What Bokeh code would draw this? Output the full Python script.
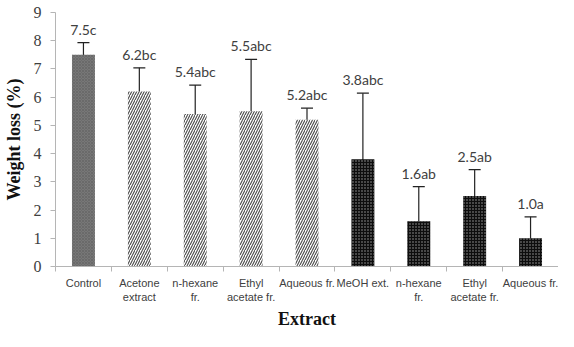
from bokeh.plotting import figure
from bokeh.models import ColumnDataSource, Whisker, TeeHead, FixedTicker, Range1d
from bokeh.core.properties import value
from bokeh.embed import file_html
from bokeh.resources import INLINE

categories = ["Control", "Acetone\nextract", "n-hexane\nfr.", "Ethyl\nacetate fr.", "Aqueous fr.",
              "MeOH ext.", "n-hexane\nfr.", "Ethyl\nacetate fr.", "Aqueous fr."]
values = [7.5, 6.2, 5.4, 5.5, 5.2, 3.8, 1.6, 2.5, 1.0]
err_upper = [7.93, 7.04, 6.43, 7.34, 5.61, 6.14, 2.83, 3.43, 1.76]
err_lower = [6.5, 5.21, 4.43, 4.52, 4.18, 1.46, 0.37, 1.57, 0.24]
letters = ["c", "bc", "abc", "abc", "abc", "abc", "ab", "ab", "a"]
groups = ["control", "acetone", "acetone", "acetone", "acetone", "meoh", "meoh", "meoh", "meoh"]
y_ticks = [0, 1, 2, 3, 4, 5, 6, 7, 8, 9]

xs = list(range(len(categories)))
labels = [f"{v:.1f}{l}" for v, l in zip(values, letters)]

p = figure(width=558, height=331, output_backend="svg", toolbar_location=None,
           x_range=Range1d(-0.5, len(categories) - 0.5), y_range=Range1d(0, 9),
           min_border_left=53, min_border_right=0, min_border_top=12, min_border_bottom=60)
p.outline_line_color = None
p.xgrid.visible = False
p.ygrid.visible = False
p.background_fill_color = "white"

styles = {
    "control": dict(fill_color="#777777", hatch_pattern="x", hatch_scale=3, hatch_color="#5c5c5c", hatch_weight=0.5),
    "acetone": dict(fill_color="white", hatch_pattern="/", hatch_scale=5, hatch_color="#4a4a4a", hatch_weight=1.1),
    "meoh": dict(fill_color="#0d0d0d", hatch_pattern="dot", hatch_scale=3, hatch_color="#a0a0a0", hatch_weight=0.6),
}
for g, st in styles.items():
    idx = [i for i, gg in enumerate(groups) if gg == g]
    src = ColumnDataSource(dict(x=[xs[i] for i in idx], top=[values[i] for i in idx]))
    p.vbar(x="x", top="top", bottom=0, width=0.41, source=src, line_color=None, **st)

src = ColumnDataSource(dict(x=xs, upper=err_upper, lower=err_lower, label=labels))
p.add_layout(Whisker(base="x", upper="upper", lower="lower", source=src,
                     line_color="#222222", line_width=1.2,
                     upper_head=TeeHead(size=12, line_color="#222222", line_width=1.2),
                     lower_head=TeeHead(size=12, line_color="#222222", line_width=1.2)))

p.text(x="x", y="upper", text="label", source=src, text_align="center", text_baseline="bottom",
       y_offset=-5, text_font=value("Lato"), text_font_size="14px", text_color="#404040")

ax = p.xaxis[0]
ax.ticker = FixedTicker(ticks=xs, minor_ticks=[x - 0.5 for x in xs] + [xs[-1] + 0.5])
ax.major_label_overrides = {x: c for x, c in zip(xs, categories)}
ax.major_tick_line_color = None
ax.minor_tick_out = 5
ax.minor_tick_in = 0
ax.minor_tick_line_color = "#b5b5b5"
ax.axis_line_color = "#b5b5b5"
ax.major_label_text_font = "Liberation Sans"
ax.major_label_text_font_size = "11px"
ax.major_label_text_color = "#404040"
ax.major_label_standoff = 4
ax.axis_label = "Extract"
ax.axis_label_text_font = "Liberation Serif"
ax.axis_label_text_font_style = "bold"
ax.axis_label_text_font_size = "18px"
ax.axis_label_text_color = "#111111"
ax.axis_label_standoff = 3

ay = p.yaxis[0]
ay.ticker = FixedTicker(ticks=y_ticks, minor_ticks=[])
ay.major_tick_out = 5
ay.major_tick_in = 0
ay.major_tick_line_color = "#b5b5b5"
ay.axis_line_color = "#b5b5b5"
ay.major_label_text_font = "Liberation Serif"
ay.major_label_text_font_size = "16px"
ay.major_label_text_color = "#404040"
ay.major_label_standoff = 9
ay.axis_label = "Weight loss (%)"
ay.axis_label_text_font = "Liberation Serif"
ay.axis_label_text_font_style = "bold"
ay.axis_label_text_font_size = "18px"
ay.axis_label_text_color = "#111111"
ay.axis_label_standoff = 7

open("out.html", "w").write(file_html(p, INLINE))
